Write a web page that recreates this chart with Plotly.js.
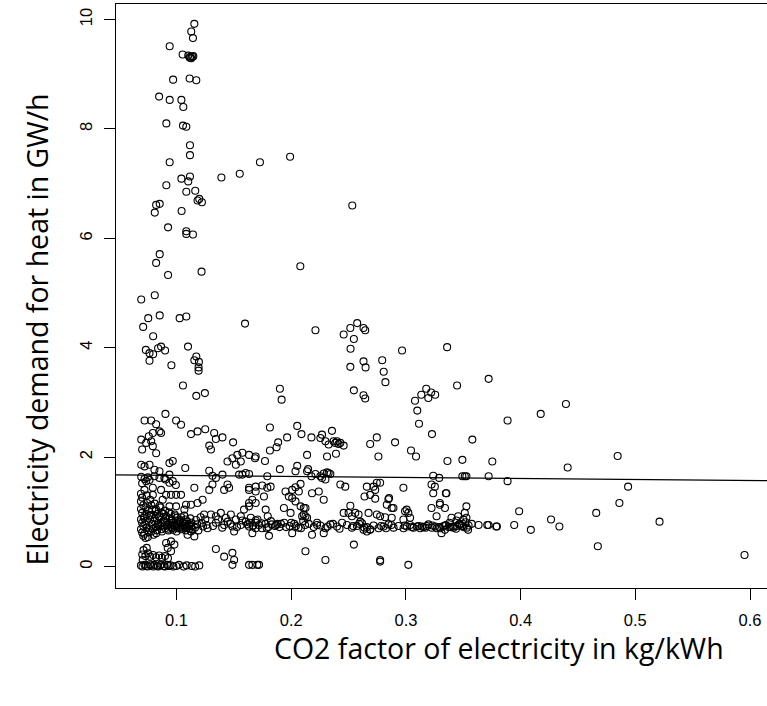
<!DOCTYPE html>
<html>
<head>
<meta charset="utf-8">
<script src="https://cdn.plot.ly/plotly-3.0.1.min.js"></script>
<style>
html,body{margin:0;padding:0;background:#fff;overflow:hidden;}
#chart{width:767px;height:706px;}
</style>
</head>
<body>
<div id="chart"></div>
<script>
// ---- data ----
// tall column of high demand at low CO2 factor
const upperColX = [0.1155,0.1128,0.1143,0.0940,0.1053,0.1102,0.1120,0.1137,0.1128,0.1146,
  0.1115,0.0970,0.1114,0.1172,0.0848,0.0940,0.1042,0.1059,0.0911,0.1056,
  0.1085,0.1117,0.1117,0.0940,0.1042,0.1117,0.1102,0.0911,0.1085,0.1163,
  0.1198,0.1183,0.1221,0.0822,0.0853,0.0810,0.1044,0.0926,0.1085,0.1085,
  0.1143,0.0853,0.0822,0.0926,0.1218,0.0810,0.0692,0.0853,0.0753,0.0709,
  0.1027,0.1085,0.0796,0.1100,0.0732,0.0764,0.0796,0.0865,0.0900,0.0839,
  0.0764,0.0955,0.1172,0.1155,0.1195,0.1192,0.1192,0.1056,0.1247,0.1172];
const upperColY = [9.92,9.78,9.66,9.51,9.36,9.34,9.32,9.32,9.29,9.33,
  9.30,8.90,8.92,8.89,8.59,8.53,8.53,8.40,8.10,8.06,
  8.04,7.70,7.52,7.39,7.09,7.13,7.04,6.97,6.85,6.87,
  6.72,6.69,6.66,6.61,6.63,6.47,6.50,6.20,6.13,6.08,
  6.07,5.71,5.55,5.33,5.39,4.96,4.88,4.59,4.54,4.38,
  4.54,4.57,4.21,4.02,3.96,3.90,3.88,4.02,3.95,3.99,
  3.76,3.68,3.84,3.77,3.74,3.64,3.58,3.31,3.17,3.12];

// scattered high-demand points at medium CO2 factor
const midUpperX = [0.1391,0.1551,0.1727,0.1990,0.1597,0.2532,0.2079,0.2211,0.2575,0.2515,
  0.2457,0.2546,0.2630,0.2645,0.2517,0.2966,0.3359,0.2515,0.2630,0.2648,
  0.2793,0.2806,0.2821,0.3446,0.3721,0.1901,0.2546,0.2630,0.1916,0.3134,
  0.3177,0.3220,0.3255,0.3195,0.2645,0.3079,0.3099,0.3114,0.1814,0.2052,
  0.4395,0.4175,0.3886];
const midUpperY = [7.11,7.18,7.39,7.49,4.44,6.60,5.49,4.32,4.45,4.36,
  4.24,4.16,4.36,4.32,3.98,3.95,4.01,3.65,3.75,3.64,
  3.77,3.56,3.37,3.31,3.43,3.25,3.22,3.13,3.05,3.14,
  3.25,3.18,3.14,3.08,3.07,3.03,2.85,2.61,2.54,2.57,
  2.97,2.79,2.67];

// left group between 1.4 and 2.8 GW/h
const leftMidX = [0.0903,0.0721,0.0779,0.0822,0.0851,0.0996,0.1039,0.1126,0.1183,0.1250,
  0.1328,0.1343,0.1400,0.1493,0.1285,0.1300,0.0692,0.0700,0.0735,0.0779,
  0.0793,0.0822,0.0758,0.0793,0.0865,0.0938,0.0967,0.1076,0.1155,0.0692,
  0.0721,0.0764,0.0807,0.0851,0.0894,0.0938,0.0967,0.1285,0.1313,0.1343,
  0.1400,0.1444,0.1487,0.1530,0.1574,0.1632,0.1690,0.1517,0.1560,0.1545,
  0.1574,0.1603,0.1444,0.1415,0.1458,0.1285,0.1313,0.1632,0.1690,0.0793,
  0.0865,0.0994,0.0807,0.0851,0.0903,0.0938,0.0692,0.0721,0.0750,0.0735,
  0.0700,0.0764];
const leftMidY = [2.79,2.67,2.67,2.60,2.47,2.67,2.59,2.42,2.47,2.51,
  2.44,2.33,2.36,2.27,2.21,2.14,2.32,2.14,2.26,2.29,
  2.20,2.07,2.38,2.44,2.44,1.89,1.93,1.80,1.44,1.86,
  1.83,1.86,1.77,1.74,1.62,1.68,1.56,1.75,1.66,1.62,
  1.68,1.92,1.98,2.04,2.08,2.04,2.01,1.86,1.92,1.68,
  1.68,1.71,1.50,1.40,1.44,1.40,1.50,1.44,1.37,1.44,
  1.40,1.49,1.65,1.62,1.59,1.53,1.64,1.60,1.63,1.56,
  1.52,1.58];

// dense blob at low CO2 factor, 0.3 - 1.4 GW/h
const blobX = [0.0690,0.0700,0.0690,0.0710,0.0690,0.0700,0.0720,0.0690,0.0700,0.0710,
  0.0690,0.0700,0.0710,0.0730,0.0720,0.0740,0.0730,0.0740,0.0730,0.0740,
  0.0720,0.0750,0.0770,0.0780,0.0760,0.0780,0.0770,0.0790,0.0760,0.0780,
  0.0800,0.0810,0.0820,0.0830,0.0810,0.0840,0.0820,0.0830,0.0860,0.0870,
  0.0850,0.0880,0.0860,0.0870,0.0900,0.0910,0.0890,0.0920,0.0900,0.0930,
  0.0950,0.0940,0.0960,0.0950,0.0970,0.0990,0.1000,0.0980,0.1010,0.1000,
  0.1040,0.1030,0.1050,0.1040,0.1080,0.1070,0.1090,0.1080,0.1120,0.1130,
  0.1110,0.1140,0.1170,0.1180,0.1160,0.1190,0.1210,0.1220,0.1230,0.1250,
  0.1260,0.1270,0.1240,0.0793,0.0879,0.0938,0.0996,0.1068,0.1126,0.1183,
  0.1227,0.1082,0.0909,0.0952,0.0996,0.1039,0.0909,0.0952,0.0981,0.0923,
  0.0952,0.1096,0.1155,0.1126,0.1300,0.1343,0.1386,0.1430,0.1473,0.1517,
  0.1560,0.1603,0.1647,0.1690,0.1343,0.1415,0.1487,0.1560,0.1632,0.1690,
  0.1502,0.1661,0.1588,0.1632,0.1690];
const blobY = [1.33,1.26,1.19,1.12,1.05,0.98,0.92,0.86,0.80,0.74,
  0.68,0.62,0.56,0.52,1.40,1.30,1.08,0.95,0.83,0.71,
  0.60,0.54,1.22,1.12,1.02,0.94,0.86,0.78,0.70,0.64,
  0.58,1.15,1.05,0.96,0.88,0.80,0.72,0.66,1.08,0.98,
  0.90,0.82,0.74,0.68,1.02,0.92,0.84,0.76,0.70,0.66,
  0.96,0.88,0.80,0.72,0.67,0.92,0.84,0.76,0.70,0.64,
  0.90,0.82,0.75,0.68,0.86,0.78,0.72,0.66,0.88,0.80,
  0.74,0.68,0.85,0.77,0.71,0.66,0.90,0.80,0.73,0.86,
  0.76,0.70,0.95,1.31,1.22,1.10,1.10,1.04,1.13,1.16,
  1.22,1.13,1.31,1.31,1.31,1.31,0.43,0.46,0.40,0.34,
  0.28,0.58,0.55,0.64,0.95,0.92,0.98,0.89,0.95,0.86,
  0.92,0.82,0.89,0.80,0.80,0.76,0.73,0.76,0.73,0.70,
  0.64,0.61,1.04,1.10,1.16];

// more points filling the darkest part of the blob
const blob2X = [0.0714,0.0727,0.0743,0.0756,0.0763,0.0788,0.0794,0.0806,0.0817,0.0823,
  0.0836,0.0847,0.0852,0.0868,0.0873,0.0886,0.0894,0.0907,0.0913,0.0928,
  0.0934,0.0946,0.0957,0.0962,0.0978,0.0984,0.0997,0.1006,0.1013,0.1027,
  0.1033,0.1048,0.1054,0.1067,0.1073,0.1088,0.1094,0.1107,0.1113,0.1128];
const blob2Y = [0.89,0.77,1.16,0.63,0.93,1.04,0.69,0.83,1.02,0.61,
  0.76,0.92,1.11,0.79,0.64,0.96,0.73,0.88,0.81,0.69,
  0.99,0.75,0.86,0.70,0.81,0.95,0.74,0.89,0.77,0.72,
  0.85,0.71,0.80,0.93,0.74,0.70,0.82,0.78,0.69,0.73];

// near-zero demand at low CO2 factor
const bottomX = [0.0690,0.0703,0.0721,0.0732,0.0749,0.0768,0.0779,0.0797,0.0808,0.0826,
  0.0839,0.0857,0.0866,0.0888,0.0897,0.0919,0.0930,0.0948,0.0972,0.0998,
  0.1021,0.1062,0.1088,0.1133,0.1162,0.1198,0.0701,0.0728,0.0752,0.0771,
  0.0795,0.0821,0.0848,0.0872,0.0899,0.0925,0.0712,0.0740,0.0705,0.1343,
  0.1415,0.1487,0.1502,0.1487,0.1661,0.1704];
const bottomY = [0.02,0.00,0.03,0.01,0.00,0.04,0.02,0.00,0.03,0.01,
  0.00,0.02,0.04,0.01,0.00,0.03,0.01,0.02,0.00,0.01,
  0.03,0.00,0.02,0.01,0.00,0.02,0.22,0.19,0.24,0.18,
  0.21,0.17,0.20,0.16,0.19,0.15,0.30,0.34,0.12,0.32,
  0.18,0.25,0.12,0.03,0.03,0.03];

// medium CO2 factor, below 1.6 GW/h
const midLowX = [0.1632,0.1690,0.1747,0.1791,0.1820,0.1762,0.1661,0.1777,0.1632,0.1950,
  0.1979,0.2008,0.2037,0.2081,0.2066,0.2008,0.2037,0.1936,0.1994,0.2081,
  0.2109,0.2124,0.2109,0.2124,0.2095,0.2181,0.2240,0.2283,0.2515,0.2500,
  0.2457,0.2558,0.2587,0.2529,0.2602,0.2674,0.2746,0.2775,0.2833,0.2876,
  0.2847,0.2818,0.2876,0.3006,0.3021,0.3036,0.2978,0.3223,0.3296,0.3340,
  0.3267,0.3397,0.3455,0.3527,0.3513,0.3527,0.2746,0.2775,0.2717,0.2659,
  0.2732,0.2688,0.2639,0.2732,0.2428,0.2471,0.2978,0.3223,0.3238,0.3348,
  0.2853,0.2891,0.2992,0.3252,0.3353,0.3296,0.2008,0.1806,0.2181,0.2283,
  0.2124,0.2298,0.2546,0.2775,0.2775,0.3021,0.1632,0.1719,0.2630,0.2688,
  0.2659,0.3310,0.3340,0.3542,0.1640,0.1665,0.1690,0.1718,0.1745,0.1775,
  0.1800,0.1830,0.1858,0.1880,0.1795,0.2138,0.1910,0.1955,0.2000,0.2040,
  0.2085,0.2120];
const midLowY = [1.40,1.46,1.48,1.44,1.46,1.28,1.22,1.04,1.16,1.37,
  1.28,1.40,1.45,1.51,1.37,1.25,1.19,1.07,0.98,1.10,
  1.07,1.07,0.95,0.92,0.92,1.34,1.37,1.22,1.11,0.98,
  0.98,0.98,0.95,0.92,0.82,0.98,0.95,0.92,1.13,1.07,
  1.23,0.90,0.89,1.04,0.98,0.89,0.86,1.07,1.16,1.07,
  0.92,0.89,0.92,1.10,0.98,0.89,1.53,1.53,1.46,1.46,
  1.40,1.31,1.28,1.24,1.50,1.46,1.44,1.50,1.34,1.34,
  1.25,1.07,1.01,1.46,1.34,1.13,0.61,0.56,0.58,0.61,
  0.28,0.12,0.40,0.12,0.09,0.03,0.03,0.03,0.67,0.67,
  0.64,0.61,0.67,0.67,0.80,0.74,0.84,0.76,0.70,0.78,
  0.72,0.77,0.74,0.78,0.92,0.89,0.78,0.72,0.80,0.74,
  0.70,0.76];

// horizontal band near 0.75 GW/h
const bandX = [0.2153,0.2196,0.2225,0.2254,0.2298,0.2341,0.2399,0.2443,0.2486,0.2529,
  0.2573,0.2617,0.2660,0.2689,0.2718,0.2761,0.2805,0.2848,0.2892,0.2935,
  0.2979,0.3008,0.3037,0.3066,0.3095,0.3124,0.3153,0.3182,0.3225,0.3255,
  0.3299,0.3342,0.3371,0.3415,0.3444,0.3473,0.3502,0.3546,0.3633,0.3720,
  0.3793,0.2990,0.3050,0.3110,0.3170,0.3230,0.3290,0.3350,0.3410,0.3470,
  0.3520,0.3500,0.3440,0.3380];
const bandY = [0.78,0.72,0.80,0.75,0.70,0.77,0.73,0.80,0.76,0.71,
  0.74,0.79,0.72,0.68,0.75,0.70,0.73,0.77,0.71,0.74,
  0.70,0.73,0.76,0.71,0.73,0.70,0.72,0.74,0.71,0.73,
  0.70,0.75,0.72,0.71,0.74,0.76,0.72,0.75,0.76,0.76,
  0.73,0.75,0.72,0.74,0.71,0.75,0.72,0.76,0.73,0.78,
  0.81,0.86,0.84,0.80];

// more points along the band
const band2X = [0.1318,0.1362,0.1398,0.1446,0.1469,0.1527,0.1574,0.1618,0.1667,0.1706,
  0.1741,0.1786,0.1823,0.1869,0.1897,0.1938,0.1985,0.2026,0.2063,0.2104,
  0.2225,0.2317,0.2364,0.2421,0.2539,0.2592,0.2638,0.2783,0.2826,0.2873,
  0.3139,0.3196,0.3268,0.3327,0.3389,0.3437,0.3462,0.3488,0.3531,0.3574];
const band2Y = [0.74,0.86,0.71,0.82,0.78,0.72,0.84,0.77,0.75,0.86,
  0.79,0.70,0.83,0.76,0.72,0.80,0.74,0.78,0.71,0.83,
  0.76,0.73,0.78,0.69,0.74,0.78,0.71,0.74,0.70,0.76,
  0.73,0.77,0.70,0.74,0.72,0.69,0.77,0.74,0.71,0.78];

// medium CO2 factor, 1.6 - 2.6 GW/h
const midHighX = [0.2089,0.2176,0.1964,0.1886,0.1872,0.1814,0.2268,0.2254,0.2298,0.2355,
  0.2369,0.2398,0.2428,0.2457,0.2326,0.2385,0.2413,0.1684,0.1771,0.2138,
  0.2312,0.2390,0.2688,0.2746,0.2905,0.2760,0.3044,0.3088,0.3362,0.3492,
  0.3753,0.3227,0.3579,0.1901,0.2052,0.2037,0.2147,0.2138,0.2176,0.2211,
  0.2254,0.2268,0.2312,0.2326,0.2341,0.2298,0.2283,0.1632,0.1791,0.3238,
  0.3290,0.3492,0.3513,0.3527,0.3721];
const midHighY = [2.42,2.36,2.36,2.27,2.18,2.12,2.41,2.35,2.29,2.48,
  2.29,2.29,2.26,2.21,2.23,2.26,2.24,1.98,1.93,2.04,
  2.01,2.06,2.24,2.36,2.27,2.01,2.12,2.01,1.93,1.95,
  1.92,2.42,2.32,1.78,1.84,1.74,1.78,1.74,1.65,1.69,
  1.65,1.62,1.72,1.71,1.69,1.59,1.70,1.69,1.65,1.66,
  1.62,1.65,1.65,1.65,1.65];

// right-hand tail
const rightTailX = [0.4410,0.4846,0.3886,0.4937,0.4861,0.3987,0.4659,0.5211,0.4265,0.4338,
  0.3944,0.4089,0.4673,0.5952,0.3709,0.3787];
const rightTailY = [1.81,2.02,1.56,1.46,1.16,1.01,0.98,0.82,0.86,0.73,
  0.76,0.67,0.37,0.21,0.76,0.73];

// fitted straight line (intercept, slope)
const fitIntercept = 1.682;
const fitSlope = -0.182;

const xTicks = [0.1, 0.2, 0.3, 0.4, 0.5, 0.6];
const yTicks = [0, 2, 4, 6, 8, 10];
const xTitle = "CO2 factor of electricity in kg/kWh";
const yTitle = "Electricity demand for heat in GW/h";

// ---- build ----
const allX = [].concat(upperColX, midUpperX, leftMidX, blobX, blob2X, bottomX, midLowX, bandX, band2X, midHighX, rightTailX);
const allY = [].concat(upperColY, midUpperY, leftMidY, blobY, blob2Y, bottomY, midLowY, bandY, band2Y, midHighY, rightTailY);

const xRange = [0.0472, 0.6148];
const yRange = [-0.393, 10.283];

const scatter = {
  type: 'scatter', mode: 'markers', x: allX, y: allY,
  marker: {symbol: 'circle-open', size: 7, color: '#000', line: {width: 1.1, color: '#000'}},
  hoverinfo: 'skip', showlegend: false
};
const fit = {
  type: 'scatter', mode: 'lines',
  x: [xRange[0], xRange[1]],
  y: [fitIntercept + fitSlope * xRange[0], fitIntercept + fitSlope * xRange[1]],
  line: {color: '#000', width: 1.3}, hoverinfo: 'skip', showlegend: false
};

const tickFont = {family: 'Liberation Sans, Arial, sans-serif', size: 16.5, color: '#000'};
const titleFont = {family: 'Open Sans, Noto Sans, sans-serif', size: 28.5, color: '#000'};

const layout = {
  width: 767, height: 706,
  margin: {l: 116, r: 0, t: 4, b: 118, pad: 0},
  paper_bgcolor: '#fff', plot_bgcolor: '#fff',
  showlegend: false,
  xaxis: {
    range: xRange, tickvals: xTicks, ticktext: xTicks.map(v => v.toFixed(1)),
    ticks: 'outside', ticklen: 11, tickwidth: 1, tickcolor: '#000',
    showline: true, linecolor: '#000', linewidth: 1, mirror: true,
    showgrid: false, zeroline: false, tickfont: tickFont, ticklabelstandoff: 6
  },
  yaxis: {
    range: yRange, tickvals: yTicks, ticktext: yTicks.map(String), tickangle: -90,
    ticks: 'outside', ticklen: 11, tickwidth: 1, tickcolor: '#000',
    showline: true, linecolor: '#000', linewidth: 1, mirror: false,
    showgrid: false, zeroline: false, tickfont: tickFont, ticklabelstandoff: 5
  },
  annotations: [
    {text: xTitle, xref: 'paper', yref: 'paper', x: 0.589, y: -0.1027,
     xanchor: 'center', yanchor: 'middle', showarrow: false, font: titleFont},
    {text: yTitle, xref: 'paper', yref: 'paper', x: -0.1214, y: 0.4426,
     xanchor: 'center', yanchor: 'middle', showarrow: false, textangle: -90, font: titleFont}
  ]
};

Plotly.newPlot('chart', [scatter, fit], layout, {staticPlot: true, displayModeBar: false});
</script>
</body>
</html>
